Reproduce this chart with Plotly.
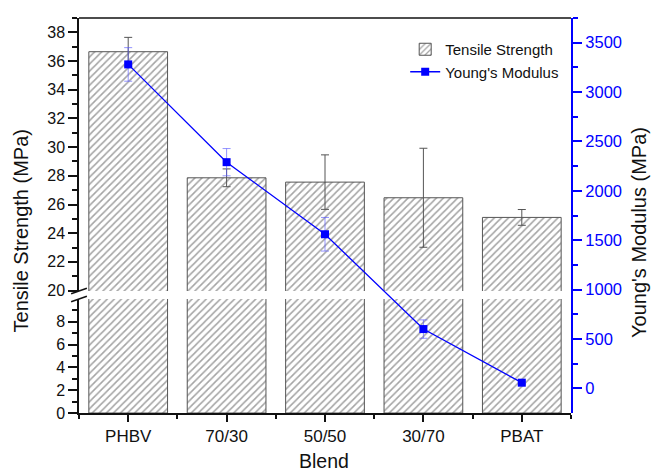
import plotly.graph_objects as go

categories = ["PHBV", "70/30", "50/50", "30/70", "PBAT"]
tensile = [36.65, 27.86, 27.56, 26.47, 25.10]
tensile_err = [1.0, 0.62, 1.9, 3.45, 0.55]
modulus = [3280, 2290, 1560, 600, 57]
modulus_err = [170, 138, 170, 93, 15]

xpos = list(range(len(categories)))
FONT = "Liberation Sans, Arial, sans-serif"
pattern = dict(shape="/", fgcolor="#4a4a4a", bgcolor="white", size=5, solidity=0.32)

fig = go.Figure()
# lower segment of broken axis
fig.add_trace(go.Bar(x=xpos, y=tensile, width=0.8, xaxis="x", yaxis="y",
                     marker=dict(color="white", pattern=pattern, line=dict(color="#555", width=1)),
                     showlegend=False, hoverinfo="skip"))
# upper segment
fig.add_trace(go.Bar(x=xpos, y=tensile, width=0.8, xaxis="x", yaxis="y3",
                     name="Tensile Strength",
                     marker=dict(color="white", pattern=pattern, line=dict(color="#555", width=1)),
                     error_y=dict(type="data", array=tensile_err, color="#555", thickness=1, width=4),
                     hoverinfo="skip"))
fig.add_trace(go.Scatter(x=xpos, y=modulus, xaxis="x", yaxis="y4", mode="lines+markers",
                         name="Young's Modulus",
                         line=dict(color="#0000ff", width=1.3),
                         marker=dict(symbol="square", size=8, color="#0000ff"),
                         error_y=dict(type="data", array=modulus_err, color="rgba(90,90,255,0.65)",
                                      thickness=1, width=4),
                         hoverinfo="skip"))

tickfont = dict(family=FONT, size=16, color="#111")
lower_top = 114 / 395
upper_bot = 122 / 395

fig.update_layout(
    width=651, height=475,
    margin=dict(l=79, r=80, t=18, b=62, autoexpand=False),
    paper_bgcolor="white", plot_bgcolor="rgba(0,0,0,0)",
    font=dict(family=FONT, color="#111"),
    barmode="overlay",
    xaxis=dict(domain=[0, 1], anchor="y", range=[-0.5, 4.5], automargin=False,
               tickvals=xpos, ticktext=categories, tickfont=dict(family=FONT, size=17, color="#111"),
               ticks="outside", ticklen=7, tickwidth=1.5, tickcolor="#111",
               minor=dict(tickvals=[-0.5, 0.5, 1.5, 2.5, 3.5, 4.5], ticks="outside", ticklen=4,
                          tickwidth=1.5, tickcolor="#111"),
               showline=True, linecolor="#111", linewidth=1.5, showgrid=False, zeroline=False),
    yaxis=dict(domain=[0, lower_top], anchor="x", range=[0, 10], automargin=False,
               tickvals=[0, 2, 4, 6, 8], tickfont=tickfont,
               ticks="outside", ticklen=9, tickwidth=1.5, tickcolor="#111",
               minor=dict(tickvals=[1, 3, 5, 7, 9], ticks="outside", ticklen=5, tickwidth=1.5,
                          tickcolor="#111"),
               showline=True, linecolor="#111", linewidth=1.5, showgrid=False, zeroline=False),
    yaxis3=dict(domain=[upper_bot, 1], anchor="x", range=[19.97, 39], automargin=False,
                tickvals=list(range(20, 39, 2)), tickfont=tickfont,
                ticks="outside", ticklen=9, tickwidth=1.5, tickcolor="#111",
                minor=dict(tickvals=list(range(21, 40, 2)), ticks="outside", ticklen=5,
                           tickwidth=1.5, tickcolor="#111"),
                showline=True, linecolor="#111", linewidth=1.5, showgrid=False, zeroline=False),
    yaxis4=dict(domain=[0, 1], anchor="x", side="right", range=[-250, 3750], automargin=False,
                tickvals=list(range(0, 3501, 500)),
                tickfont=dict(family=FONT, size=16.5, color="#0000ff"),
                ticks="outside", ticklen=9, tickwidth=1.5, tickcolor="#0000ff",
                minor=dict(tickvals=list(range(250, 3751, 500)), ticks="outside", ticklen=5,
                           tickwidth=1.5, tickcolor="#0000ff"),
                showline=True, linecolor="#0000ff", linewidth=2, showgrid=False, zeroline=False),
    legend=dict(x=0.663, y=0.962, xanchor="left", yanchor="top", bgcolor="rgba(0,0,0,0)",
                font=dict(family=FONT, size=15, color="#111"), tracegroupgap=0),
    annotations=[
        dict(text="Tensile Strength (MPa)", xref="paper", yref="paper", x=-0.118, y=0.462,
             xanchor="center", yanchor="middle", textangle=-90, showarrow=False,
             font=dict(family=FONT, size=20, color="#111")),
        dict(text="Young's Modulus (MPa)", xref="paper", yref="paper", x=1.138, y=0.458,
             xanchor="center", yanchor="middle", textangle=-90, showarrow=False,
             font=dict(family=FONT, size=20, color="#111")),
        dict(text="Blend", xref="paper", yref="paper", x=0.497, y=-0.122,
             xanchor="center", yanchor="middle", showarrow=False,
             font=dict(family=FONT, size=19.5, color="#111")),
    ],
    shapes=[
        dict(type="line", xref="paper", yref="paper", x0=0, x1=1, y0=1, y1=1,
             line=dict(color="#111", width=1.5)),
        dict(type="line", xref="paper", yref="paper", x0=-0.016, x1=0.016,
             y0=upper_bot - 0.0068, y1=upper_bot + 0.0068, line=dict(color="#111", width=1.5)),
        dict(type="line", xref="paper", yref="paper", x0=-0.016, x1=0.016,
             y0=lower_top - 0.0068, y1=lower_top + 0.0068, line=dict(color="#111", width=1.5)),
    ],
)

fig.write_html("out.html", config={"displayModeBar": False},
               post_script="document.body.style.margin='0';document.body.style.overflow='hidden';")
